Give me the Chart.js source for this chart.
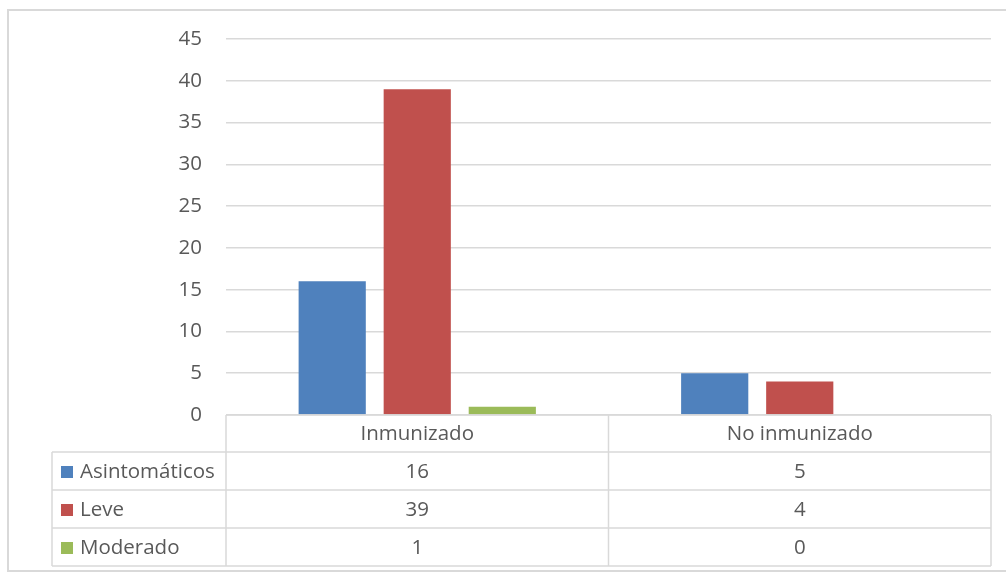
<!DOCTYPE html>
<html>
<head>
<meta charset="utf-8">
<script src="https://cdn.jsdelivr.net/npm/chart.js@4"></script>
<style>
  html, body { margin: 0; padding: 0; background: #fff; }
  #wrap { width: 1006px; height: 575px; position: relative; }
</style>
</head>
<body>
<div id="wrap"><canvas id="chart"></canvas></div>
<script>
// Categories and series
const categories = ['Inmunizado', 'No inmunizado'];
const seriesNames = ['Asintomáticos', 'Leve', 'Moderado'];
const asintomaticos = [16, 5];
const leve = [39, 4];
const moderado = [1, 0];
const yTicks = [0, 5, 10, 15, 20, 25, 30, 35, 40, 45];

const colors = ['#4f81bd', '#c0504d', '#9bbb59'];
const textColor = '#595959';
const lineColor = '#d9d9d9';
const fontFamily = '"Open Sans", "Noto Sans", sans-serif';
const fontSize = 20.5;

// Draws outer frame and the data table under the plot
const tablePlugin = {
    id: 'dataTable',
    beforeDraw: function(chart) {
        const ctx = chart.ctx;
        ctx.save();
        ctx.fillStyle = '#fff';
        ctx.fillRect(0, 0, chart.width, chart.height);
        ctx.strokeStyle = lineColor;
        ctx.lineWidth = 2;
        ctx.strokeRect(8, 10, chart.width + 10, 561);
        ctx.restore();
    },
    afterDraw: function(chart) {
        const ctx = chart.ctx;
        const area = chart.chartArea;
        const x = chart.scales.x;
        const catW = (area.right - area.left) / categories.length;
        const headTop = area.bottom;
        const headH = 37;
        const rowH = 38;
        const legendLeft = 52;
        const rows = chart.data.datasets;
        const tableBottom = headTop + headH + rows.length * rowH;

        ctx.save();
        ctx.strokeStyle = lineColor;
        ctx.lineWidth = 1.5;

        // horizontal lines
        ctx.beginPath();
        ctx.moveTo(area.left, headTop);
        ctx.lineTo(area.right, headTop);
        for (let r = 0; r <= rows.length; r++) {
            const yy = headTop + headH + r * rowH;
            ctx.moveTo(legendLeft, yy);
            ctx.lineTo(area.right, yy);
        }
        // vertical lines
        ctx.moveTo(legendLeft, headTop + headH);
        ctx.lineTo(legendLeft, tableBottom);
        for (let c = 0; c <= categories.length; c++) {
            const xx = area.left + c * catW;
            ctx.moveTo(xx, headTop);
            ctx.lineTo(xx, tableBottom);
        }
        ctx.stroke();

        ctx.font = fontSize + 'px ' + fontFamily;
        ctx.fillStyle = textColor;
        ctx.textBaseline = 'middle';
        ctx.textAlign = 'center';

        // header labels
        categories.forEach(function(cat, i) {
            ctx.fillText(cat, x.getPixelForValue(i), headTop + headH / 2 + 1);
        });

        // rows
        rows.forEach(function(ds, r) {
            const cy = headTop + headH + r * rowH + rowH / 2 + 1;
            ctx.fillStyle = ds.backgroundColor;
            ctx.fillRect(legendLeft + 9, cy - 6, 12, 12);
            ctx.fillStyle = textColor;
            ctx.textAlign = 'left';
            ctx.fillText(ds.label, legendLeft + 28, cy);
            ctx.textAlign = 'center';
            ds.data.forEach(function(v, i) {
                ctx.fillText(String(v), x.getPixelForValue(i), cy);
            });
        });
        ctx.restore();
    }
};

const ctx = document.getElementById('chart').getContext('2d');
new Chart(ctx, {
    type: 'bar',
    data: {
        labels: categories,
        datasets: [
            { label: seriesNames[0], data: asintomaticos, backgroundColor: colors[0] },
            { label: seriesNames[1], data: leve, backgroundColor: colors[1] },
            { label: seriesNames[2], data: moderado, backgroundColor: colors[2] }
        ]
    },
    options: {
        responsive: true,
        maintainAspectRatio: false,
        animation: false,
        devicePixelRatio: 1,
        categoryPercentage: 0.667,
        barPercentage: 0.79,
        layout: {
            padding: { top: 39, bottom: 160, right: 15, left: 0 }
        },
        plugins: {
            legend: { display: false },
            tooltip: { enabled: false }
        },
        scales: {
            x: {
                display: false
            },
            y: {
                min: 0,
                max: 45,
                afterFit: function(scale) { scale.width = 226; },
                afterBuildTicks: function(scale) {
                    scale.ticks = yTicks.map(function(v) { return { value: v }; });
                },
                border: { display: false },
                grid: {
                    color: lineColor,
                    lineWidth: 1.5,
                    drawTicks: false
                },
                ticks: {
                    padding: 24,
                    color: textColor,
                    font: { size: fontSize, family: fontFamily }
                }
            }
        }
    },
    plugins: [tablePlugin]
});
</script>
</body>
</html>
